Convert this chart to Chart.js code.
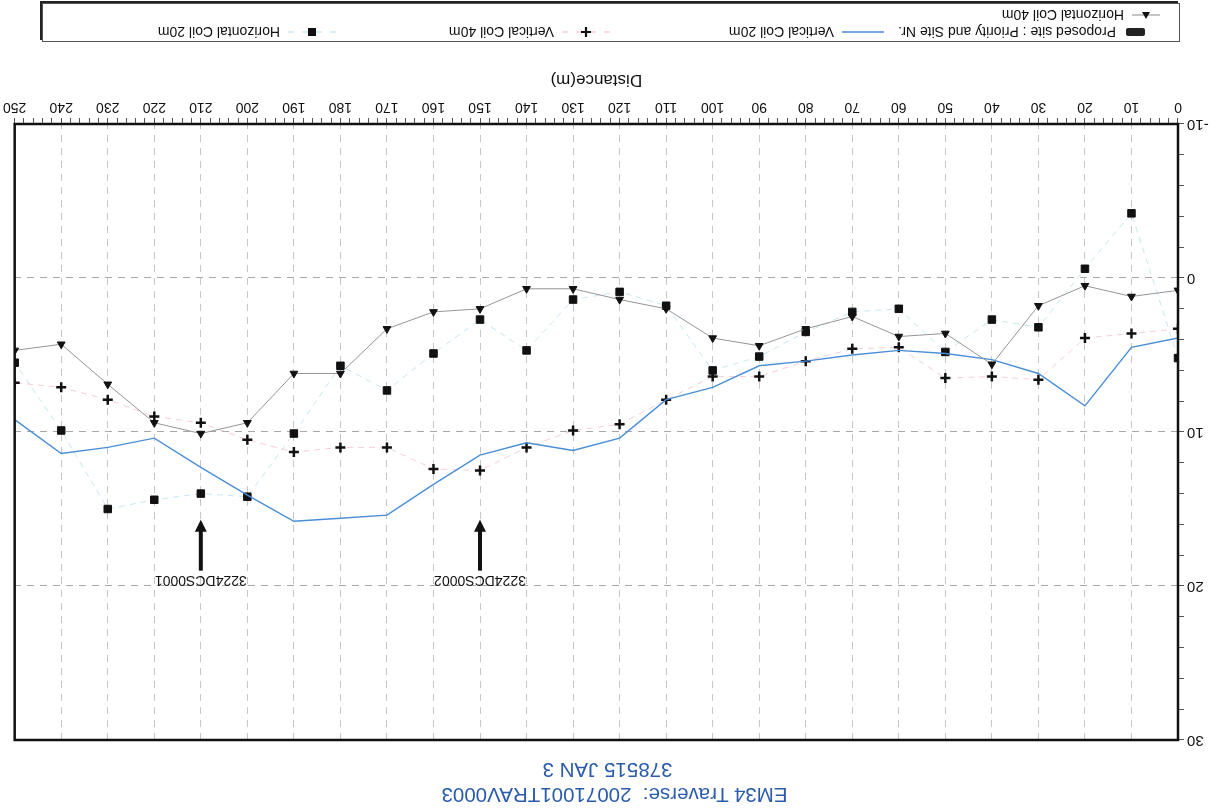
<!DOCTYPE html>
<html>
<head>
<meta charset="utf-8">
<title>EM34 Traverse</title>
<script src="https://cdn.jsdelivr.net/npm/chart.js@4.4.1/dist/chart.umd.min.js"></script>
<style>
  html, body { margin: 0; padding: 0; background: #fff; }
  /* the scan is upside down, so the whole sheet is turned */
  #sheet { position: relative; width: 1215px; height: 808px; overflow: hidden;
           transform: rotate(180deg); font-family: "Liberation Sans", Arial, sans-serif; }
  #emChart { position: absolute; left: 0; top: 0; }
  .ttl { position: absolute; left: 0; width: 1215px; text-align: center; color: #2b5cab; font-size: 20.5px; line-height: 22px; white-space: pre; }
  #legendBox { position: absolute; left: 35px; top: 766px; width: 1136px; height: 37px;
               border: 1px solid #555; box-shadow: 2px 2px 0 #222; background: #fff; }
  .lg { position: absolute; font-size: 14px; line-height: 16px; color: #111; white-space: nowrap; }
  .lg svg { position: absolute; }
</style>
</head>
<body>
<div id="sheet">
  <canvas id="emChart" width="1215" height="808"></canvas>
  <div class="ttl" style="top:2px;left:-7px">EM34 Traverse:  20071001TRAV0003</div>
  <div class="ttl" style="top:27px">378515 JAN 3</div>
  <div id="legendBox"></div>
</div>
<script>
// distance along the traverse (m)
const distance = [0, 10, 20, 30, 40, 50, 60, 70, 80, 90, 100, 110, 120, 130, 140, 150, 160, 170, 180, 190, 200, 210, 220, 230, 240, 250];

// conductivity readings
const horizontalCoil40 = [0.8, 1.2, 0.5, 1.8, 5.6, 3.6, 3.8, 2.5, 3.3, 4.4, 3.9, 2.0, 1.4, 0.7, 0.7, 2.0, 2.2, 3.3, 6.2, 6.2, 9.4, 10.1, 9.4, 6.9, 4.3, 4.7];
const verticalCoil20   = [3.9, 4.5, 8.3, 6.2, 5.3, 4.9, 4.7, 5.0, 5.4, 5.7, 7.1, 7.9, 10.4, 11.2, 10.7, 11.5, 13.4, 15.4, 15.6, 15.8, 14.1, 12.3, 10.4, 11.0, 11.4, 9.2];
const verticalCoil40   = [3.3, 3.6, 3.9, 6.6, 6.4, 6.5, 4.5, 4.6, 5.4, 6.4, 6.4, 7.9, 9.5, 9.9, 11.0, 12.5, 12.4, 11.0, 11.0, 11.3, 10.5, 9.4, 9.0, 7.9, 7.1, 6.8];
const horizontalCoil20 = [5.2, -4.2, -0.6, 3.2, 2.7, 4.8, 2.0, 2.2, 3.5, 5.1, 6.0, 1.8, 0.9, 1.4, 4.7, 2.7, 4.9, 7.3, 5.7, 10.1, 14.2, 14.0, 14.4, 15.0, 9.9, 5.5];

// proposed drill sites (arrows)
const siteNames = ['3224DCS0001', '3224DCS0002'];
const siteDistance = [210, 150];
const siteArrowTip = [15.7, 15.7];
const siteArrowTail = [19.0, 19.0];
const siteLabelLevel = [19.6, 19.6];

// axis ticks
const xMin = 0, xMax = 250, xMinorStep = 2, xMajorStep = 10;
const yMin = -10, yMax = 30, yMinorStep = 2, yMajorStep = 10;

const FONT = '"Liberation Sans", Arial, sans-serif';

function pts(values) {
    return distance.map((d, i) => ({ x: d, y: values[i] }));
}

const frameAndSites = {
    id: 'frameAndSites',
    afterDatasetsDraw(chart) {
        const { ctx, scales: { x, y } } = chart;
        ctx.save();
        // site arrows
        ctx.fillStyle = '#111';
        ctx.strokeStyle = '#111';
        siteDistance.forEach((d, i) => {
            const px = x.getPixelForValue(d);
            const tip = y.getPixelForValue(siteArrowTip[i]);
            const tail = y.getPixelForValue(siteArrowTail[i]);
            ctx.lineWidth = 4;
            ctx.beginPath();
            ctx.moveTo(px, tail);
            ctx.lineTo(px, tip - 8);
            ctx.stroke();
            ctx.beginPath();
            ctx.moveTo(px, tip);
            ctx.lineTo(px - 6, tip - 12);
            ctx.lineTo(px + 6, tip - 12);
            ctx.closePath();
            ctx.fill();
            ctx.font = '14px ' + FONT;
            ctx.textAlign = 'center';
            ctx.textBaseline = 'middle';
            ctx.fillText(siteNames[i], px, y.getPixelForValue(siteLabelLevel[i]));
        });
        ctx.restore();
    },
    afterDraw(chart) {
        const { ctx, chartArea: a } = chart;
        ctx.save();
        ctx.strokeStyle = '#111';
        ctx.lineWidth = 2.5;
        ctx.strokeRect(a.left, a.top, a.right - a.left, a.bottom - a.top);
        ctx.restore();
    }
};

const ctx = document.getElementById('emChart');
new Chart(ctx, {
    type: 'line',
    data: {
        datasets: [
            {
                label: 'Horizontal Coil 40m',
                data: pts(horizontalCoil40),
                borderColor: '#959595',
                borderWidth: 1,
                pointStyle: 'triangle',
                pointRadius: 4.5,
                pointBackgroundColor: '#111',
                pointBorderColor: '#111',
                pointBorderWidth: 1
            },
            {
                label: 'Vertical Coil 20m',
                data: pts(verticalCoil20),
                borderColor: '#4a8ed6',
                borderWidth: 1.4,
                pointRadius: 0
            },
            {
                label: 'Vertical Coil 40m',
                data: pts(verticalCoil40),
                borderColor: 'rgba(236,160,170,0.5)',
                borderWidth: 1,
                borderDash: [6, 5],
                pointStyle: 'cross',
                pointRadius: 5,
                pointBorderColor: '#111',
                pointBorderWidth: 2.5
            },
            {
                label: 'Horizontal Coil 20m',
                data: pts(horizontalCoil20),
                borderColor: 'rgba(150,205,225,0.5)',
                borderWidth: 1,
                borderDash: [6, 5],
                pointStyle: 'rect',
                pointRadius: 5.3,
                pointBackgroundColor: '#111',
                pointBorderColor: '#111',
                pointBorderWidth: 1
            }
        ]
    },
    options: {
        responsive: false,
        animation: false,
        devicePixelRatio: 1,
        layout: { padding: { top: 68, right: 10, bottom: 64, left: 0 } },
        plugins: {
            legend: { display: false },
            tooltip: { enabled: false }
        },
        scales: {
            x: {
                type: 'linear',
                min: xMin, max: xMax,
                afterFit(axis) { axis.height = 60; },
                border: { display: false, dash: [7, 6] },
                grid: {
                    color: c => (c.tick && c.tick.value % xMajorStep === 0) ? '#c6c6c6' : 'transparent',
                    tickColor: '#555',
                    tickLength: 6,
                    lineWidth: 1
                },
                ticks: {
                    stepSize: xMinorStep,
                    autoSkip: false,
                    maxRotation: 0,
                    padding: 3,
                    color: '#111',
                    font: { size: 14, family: FONT },
                    callback: v => (v % xMajorStep === 0 ? v : '')
                },
                title: {
                    display: true,
                    text: 'Distance(m)',
                    color: '#111',
                    font: { size: 17, family: FONT },
                    padding: { top: 2, bottom: 5 }
                }
            },
            y: {
                type: 'linear',
                min: yMin, max: yMax,
                afterFit(axis) { axis.width = 37; },
                border: { display: false, dash: [7, 6] },
                grid: {
                    color: c => (c.tick && c.tick.value % yMajorStep === 0) ? '#a8a8a8' : 'transparent',
                    tickColor: '#555',
                    tickLength: 6,
                    lineWidth: 1
                },
                ticks: {
                    stepSize: yMinorStep,
                    autoSkip: false,
                    padding: 3,
                    color: '#111',
                    font: { size: 15, family: FONT },
                    callback: v => (v % yMajorStep === 0 ? v : '')
                }
            }
        }
    },
    plugins: [frameAndSites]
});

// legend laid out like the printed one
const legendItems = [
    { label: 'Proposed site : Priority and Site Nr.', left: 28, top: 1, kind: 'site' },
    { label: 'Vertical Coil 20m', left: 310, top: 1, kind: 'v20' },
    { label: 'Vertical Coil 40m', left: 590, top: 1, kind: 'v40' },
    { label: 'Horizontal Coil 20m', left: 864, top: 1, kind: 'h20' },
    { label: 'Horizontal Coil 40m', left: 20, top: 18, kind: 'h40' }
];
const swatches = {
    site: '<svg width="22" height="12" style="left:-30px;top:2px"><rect x="1" y="2" width="19" height="8" rx="2" fill="#222"/></svg>',
    v20: '<svg width="46" height="12" style="left:-52px;top:2px"><line x1="2" y1="6" x2="44" y2="6" stroke="#4a8ed6" stroke-width="1.4"/></svg>',
    v40: '<svg width="52" height="14" style="left:-58px;top:1px"><line x1="2" y1="7" x2="50" y2="7" stroke="rgba(236,160,170,0.7)" stroke-dasharray="6 8"/><path d="M21 7h10M26 2v10" stroke="#111" stroke-width="2.2"/></svg>',
    h20: '<svg width="52" height="14" style="left:-58px;top:1px"><line x1="2" y1="7" x2="50" y2="7" stroke="rgba(150,205,225,0.7)" stroke-dasharray="6 8"/><rect x="22" y="3" width="8" height="8" fill="#111"/></svg>',
    h40: '<svg width="32" height="12" style="left:-38px;top:2px"><line x1="2" y1="6" x2="30" y2="6" stroke="#8c8c8c"/><path d="M16 2l4 7h-8z" fill="#111"/></svg>'
};
const box = document.getElementById('legendBox');
legendItems.forEach(it => {
    const el = document.createElement('div');
    el.className = 'lg';
    el.style.left = (it.left + 35) + 'px';
    el.style.top = it.top + 'px';
    el.innerHTML = swatches[it.kind] + '<span>' + it.label + '</span>';
    box.appendChild(el);
});
</script>
</body>
</html>
